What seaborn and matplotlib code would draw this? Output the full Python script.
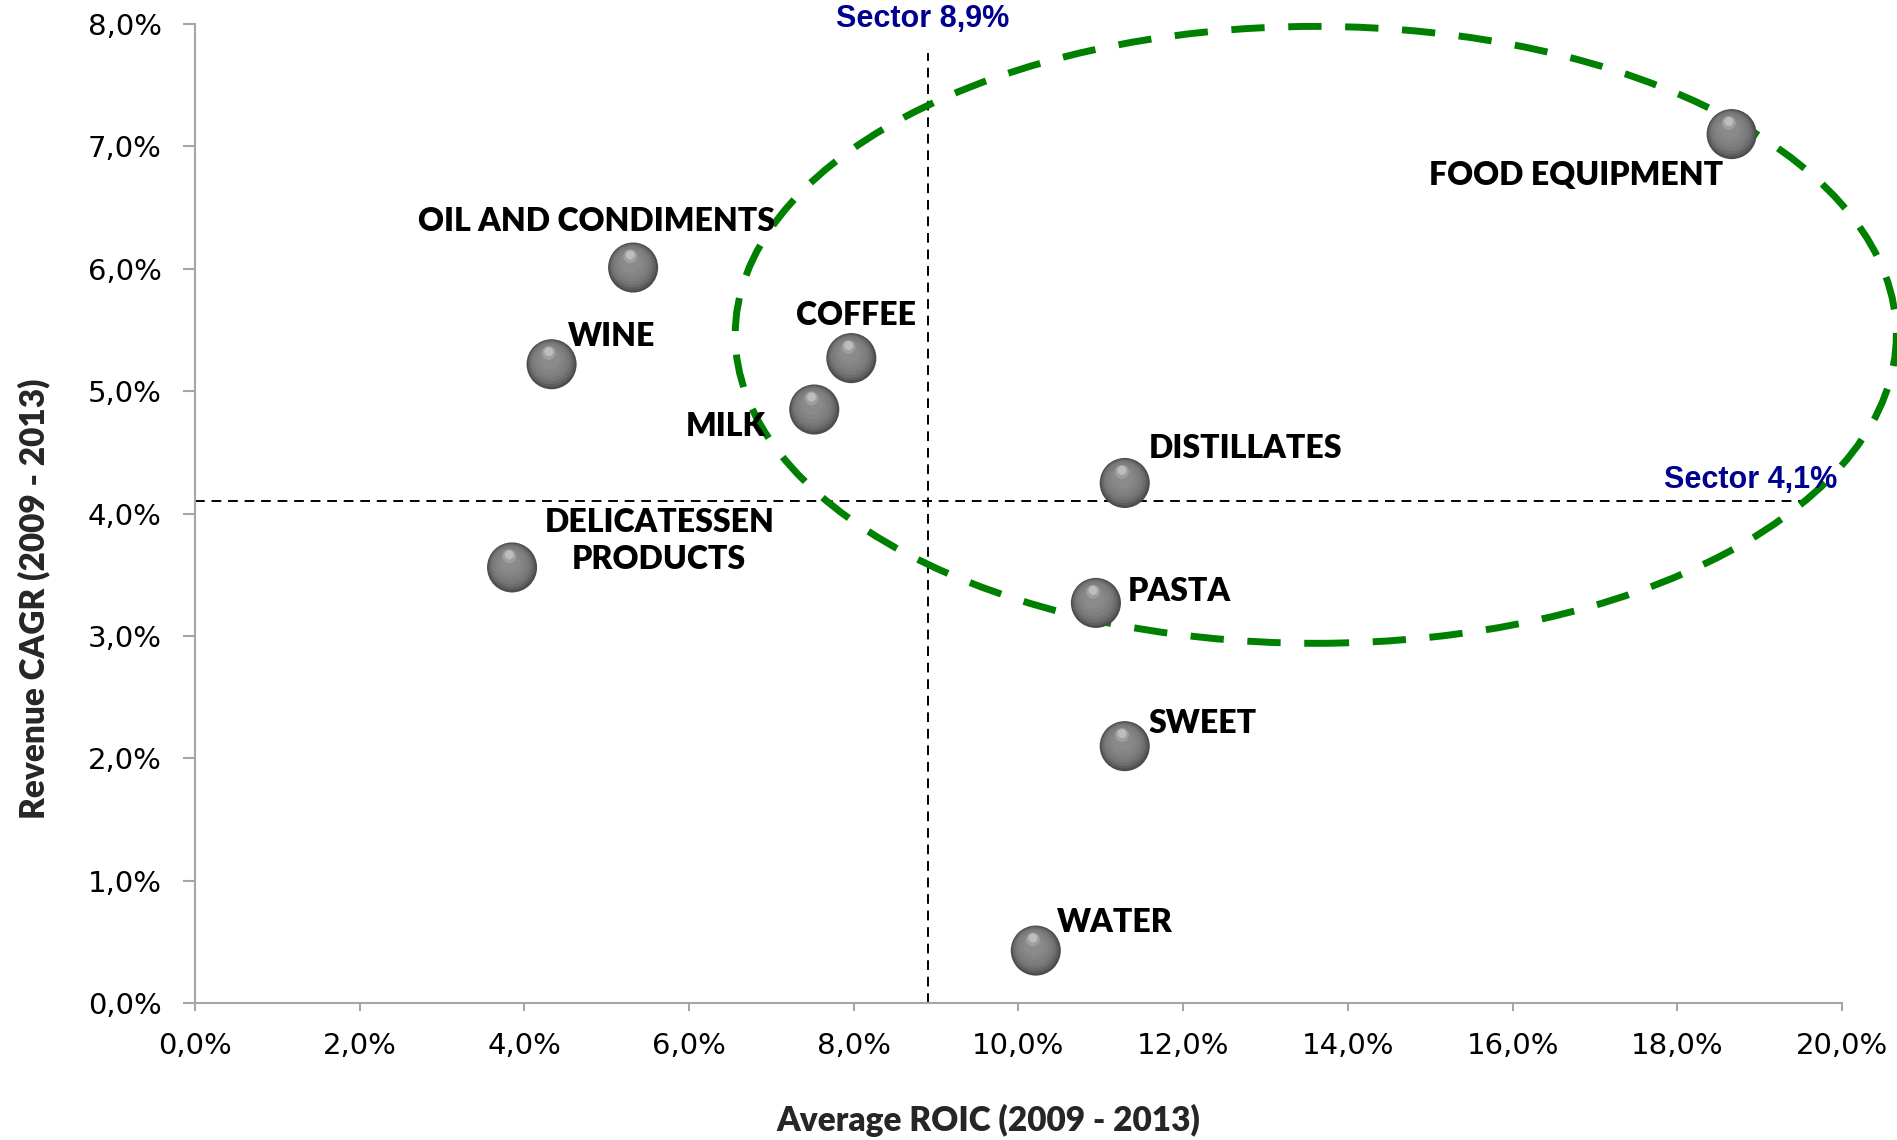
import numpy as np
import pandas as pd
import matplotlib
matplotlib.use("Agg")
import matplotlib.pyplot as plt
import matplotlib.transforms as mtransforms
from matplotlib.patches import Ellipse
from matplotlib.ticker import MultipleLocator, FuncFormatter
from matplotlib import font_manager
import seaborn as sns

# --- data -------------------------------------------------------------
segments = ["OIL AND CONDIMENTS", "WINE", "COFFEE", "MILK",
            "DELICATESSEN\nPRODUCTS", "DISTILLATES", "PASTA", "SWEET",
            "WATER", "FOOD EQUIPMENT"]
avg_roic = [5.32, 4.33, 7.97, 7.52, 3.85, 11.29, 10.94, 11.29, 10.21, 18.66]
revenue_cagr = [6.01, 5.22, 5.27, 4.85, 3.56, 4.25, 3.27, 2.10, 0.43, 7.10]
sector_roic = 8.9
sector_cagr = 4.1
sector_roic_label = "Sector 8,9%"
sector_cagr_label = "Sector 4,1%"
x_label = "Average ROIC (2009 - 2013)"
y_label = "Revenue CAGR (2009 - 2013)"

# label placement around each bubble (points)
label_offsets = [(-26, 33), (43, 20), (3.5, 30.5), (-64, -12), (106, 19),
                 (87, 25), (60, 8), (56, 16), (57, 20), (-112, -30)]

df = pd.DataFrame({"segment": segments, "roic": avg_roic, "cagr": revenue_cagr})

sns.set_theme(style="white")
plt.rcParams["font.family"] = ["DejaVu Sans"]

installed = {f.name for f in font_manager.fontManager.ttflist}
narrow = "Liberation Sans Narrow" if "Liberation Sans Narrow" in installed else None

fig = plt.figure(figsize=(18.97, 11.40), dpi=100)
ax = fig.add_axes([0.1028, 0.120, 0.8682, 0.859])

ax.set_xlim(0, 20)
ax.set_ylim(0, 8)

# --- sector reference lines -------------------------------------------
ax.axvline(sector_roic, ymin=0, ymax=0.97, color="black", lw=1.4,
           linestyle=(0, (5, 3.5)), zorder=1)
ax.axhline(sector_cagr, xmin=0, xmax=0.979, color="black", lw=1.4,
           linestyle=(0, (5, 3.5)), zorder=1)

ax.annotate(sector_roic_label, xy=(sector_roic, 8.0), xytext=(-4, 3.5),
            textcoords="offset points", ha="center", va="center",
            fontsize=22, fontweight="bold", color="#00008f",
            family="Liberation Sans", annotation_clip=False)
ax.annotate(sector_cagr_label, xy=(0.997, sector_cagr),
            xycoords=(ax.transAxes, ax.transData), xytext=(0, 15.5),
            textcoords="offset points", ha="right", va="center",
            fontsize=22, fontweight="bold", color="#00008f",
            family="Liberation Sans", annotation_clip=False)

# --- highlight ellipse --------------------------------------------------
ell = Ellipse((13.61, 5.46), width=14.10, height=5.04, fill=False,
              edgecolor="#008000", lw=5, linestyle=(0, (4.8, 3.4)),
              clip_on=False, zorder=2)
ax.add_patch(ell)

# --- bubbles (shaded spheres) -------------------------------------------
sns.scatterplot(data=df, x="roic", y="cagr", s=1300, color="#4d4d4d",
                edgecolor="none", linewidth=0, ax=ax, zorder=3, legend=False)

layers = [
    # (dx, dy, diameter pt, color)
    (-0.3, 0.6, 33.5, "#5e5e5e"),
    (-0.6, 1.2, 31.0, "#6c6c6c"),
    (-0.9, 1.8, 28.0, "#777777"),
    (-1.1, 2.4, 24.5, "#7e7e7e"),
    (-1.3, 3.0, 20.0, "#848484"),
    (-1.5, 3.6, 15.0, "#8a8a8a"),
    (-2.0, 8.0, 10.0, "#9e9e9e"),
    (-2.0, 9.0, 6.5, "#bdbdbd"),
]
for dx, dy, d, c in layers:
    tr = mtransforms.offset_copy(ax.transData, fig=fig, x=dx, y=dy, units="points")
    ax.scatter(df["roic"], df["cagr"], s=d ** 2, color=c, edgecolor="none",
               transform=tr, zorder=3)

# --- bubble labels ------------------------------------------------------
for name, x, y, (ox, oy) in zip(segments, avg_roic, revenue_cagr, label_offsets):
    ax.annotate(name, xy=(x, y), xytext=(ox, oy), textcoords="offset points",
                ha="center", va="center", fontsize=23, fontweight="heavy",
                family="Lato", color="black", linespacing=1.3, zorder=4)

# --- axes styling -------------------------------------------------------
ax.xaxis.set_major_locator(MultipleLocator(2))
ax.yaxis.set_major_locator(MultipleLocator(1))
pct = FuncFormatter(lambda v, _: f"{v:.1f}%".replace(".", ","))
ax.xaxis.set_major_formatter(pct)
ax.yaxis.set_major_formatter(pct)

for side in ("top", "right"):
    ax.spines[side].set_visible(False)
for side in ("left", "bottom"):
    ax.spines[side].set_color("#a6a6a6")
    ax.spines[side].set_linewidth(1.5)

ax.tick_params(axis="y", which="major", direction="out", length=9, width=1.5,
               color="#a6a6a6", labelsize=21, pad=15, left=True, labelcolor="black")
ax.tick_params(axis="x", which="major", direction="out", length=6, width=1.5,
               color="#a6a6a6", labelsize=21, pad=15, bottom=True, labelcolor="black")

ax.set_xlabel(x_label, fontsize=24, fontweight="heavy", family="Lato")
if narrow:
    ax.set_ylabel(y_label, fontsize=28, fontweight="bold", family=narrow)
else:
    ax.set_ylabel(y_label, fontsize=24, fontweight="heavy", family="Lato")
ax.xaxis.set_label_coords(0.482, -0.103)
ax.yaxis.set_label_coords(-0.088, 0.413)

fig.savefig("out.png", dpi=100, facecolor="white")
